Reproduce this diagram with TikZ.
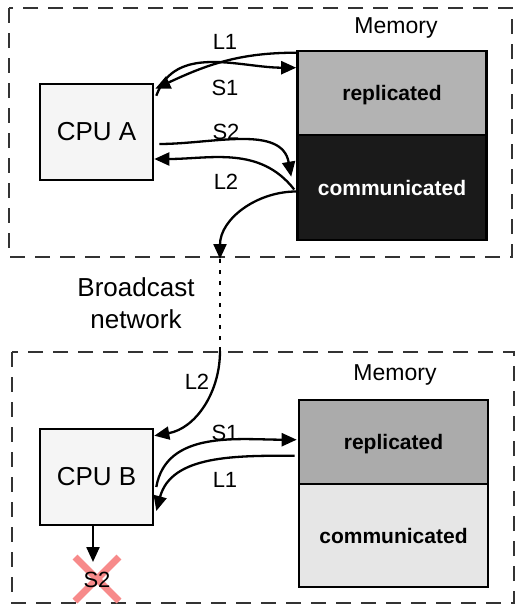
\documentclass[tikz,border=0pt]{standalone}
\usepackage{fontspec}
\setmainfont{Liberation Sans}
\usetikzlibrary{arrows.meta,calc}

\definecolor{cpufill}{HTML}{F5F5F5}
\definecolor{repA}{HTML}{B3B3B3}
\definecolor{comA}{HTML}{1A1A1A}
\definecolor{repB}{HTML}{ABABAB}
\definecolor{comB}{HTML}{E6E6E6}
\definecolor{dashgray}{HTML}{333333}
\definecolor{crossred}{HTML}{F78A8A}

\tikzset{
  region/.style={draw=dashgray, line width=1.2pt, dash pattern=on 15pt off 10pt},
  cpubox/.style={draw, line width=2.6pt, fill=cpufill, minimum width=113pt, minimum height=96pt,
    inner sep=0pt, font=\fontsize{26}{29}\selectfont},
  membox/.style={draw, line width=2.6pt, minimum width=189pt, inner sep=0pt, text depth=0pt,
    font=\fontsize{21}{24}\selectfont\bfseries},
  lbl/.style={font=\fontsize{22}{26}\selectfont, inner sep=0pt},
  memlbl/.style={font=\fontsize{23}{27}\selectfont, inner sep=0pt},
  flow/.style={line width=2.3pt, -{Triangle[length=15pt,width=13pt]}},
}

\begin{document}
\begin{tikzpicture}[x=1pt,y=1pt]
  \useasboundingbox (0,0) rectangle (514,-605);

  % node regions
  \draw[region] (9,-8) rectangle (512,-257);
  \draw[region] (12,-352) rectangle (514,-603);

  % --- node A ---
  \node[cpubox] (cpuA) at (96.5,-132) {CPU A};
  \node[membox, fill=repA, minimum height=84pt] (memArep) at (392,-93) {replicated};
  \node[membox, fill=comA, text=white, minimum height=105pt] (memAcom) at (392,-187.5) {communicated};
  \node[memlbl] (memAlbl) at (396,-28) {Memory};

  % --- node B ---
  \node[cpubox] (cpuB) at (96.5,-477) {CPU B};
  \node[membox, fill=repB, minimum height=84pt] (memBrep) at (393.5,-442) {replicated};
  \node[membox, fill=comB, minimum height=103pt] (memBcom) at (393.5,-535.5) {communicated};
  \node[memlbl] (memBlbl) at (395,-375) {Memory};

  % network
  \node[lbl, font=\fontsize{26}{32}\selectfont, align=center] (net) at (136,-303) {Broadcast\\network};
  \coordinate (netTop) at (220,-259);
  \coordinate (netBot) at (220,-351);

  % load / store traffic on node A
  \draw[flow] ($(memArep.north west)+(0,-3)$) to[out=180,in=25] ($(cpuA.north east)+(1,-6)$);
  \draw[flow] ($(cpuA.north east)+(2,-13)$) to[out=70,in=180] ($(memArep.north west)+(0,-18)$);
  \draw[flow] ($(cpuA.east)+(5,-12)$) to[out=0,in=100] ($(memAcom.north west)+(-5,-43)$);
  \draw[flow] ($(memAcom.west)+(-2,-2)$) to[out=128,in=0] ($(cpuA.east)+(0,-27)$);
  \draw[flow] ($(memAcom.west)+(0,-4)$) to[out=180,in=90] (netTop);

  \node[lbl] (l1A) at (225,-42) {L1};
  \node[lbl] (s1A) at (225,-88) {S1};
  \node[lbl] (s2A) at (226,-132) {S2};
  \node[lbl] (l2A) at (226,-182) {L2};

  % broadcast link
  \draw[line width=2.8pt, dash pattern=on 4pt off 7pt] (netTop) -- (netBot);

  % traffic on node B
  \draw[flow] (netBot) to[out=270,in=10] ($(cpuB.north east)+(0,-8)$);
  \draw[flow] ($(cpuB.east)+(2,-10)$) to[out=80,in=180] ($(memBrep.north west)+(-1,-41)$);
  \draw[flow] ($(memBrep.north west)+(-3,-57)$) to[out=180,in=75] ($(cpuB.east)+(2,-34)$);

  \node[lbl] (l2B) at (197,-382) {L2};
  \node[lbl] (s1B) at (225,-433) {S1};
  \node[lbl] (l1B) at (225,-480) {L1};

  % local store S2 that is never sent
  \coordinate (crossC) at (97,-579);
  \draw[crossred, line width=7pt] ($(crossC)+(-22,22)$) -- ($(crossC)+(22,-22)$)
                                   ($(crossC)+(-22,-22)$) -- ($(crossC)+(22,22)$);
  \node[lbl, font=\fontsize{22}{26}\selectfont] (s2B) at (97,-580) {S2};
  \draw[flow] (cpuB.south -| 93,0) -- (93,-562);
\end{tikzpicture}
\end{document}
